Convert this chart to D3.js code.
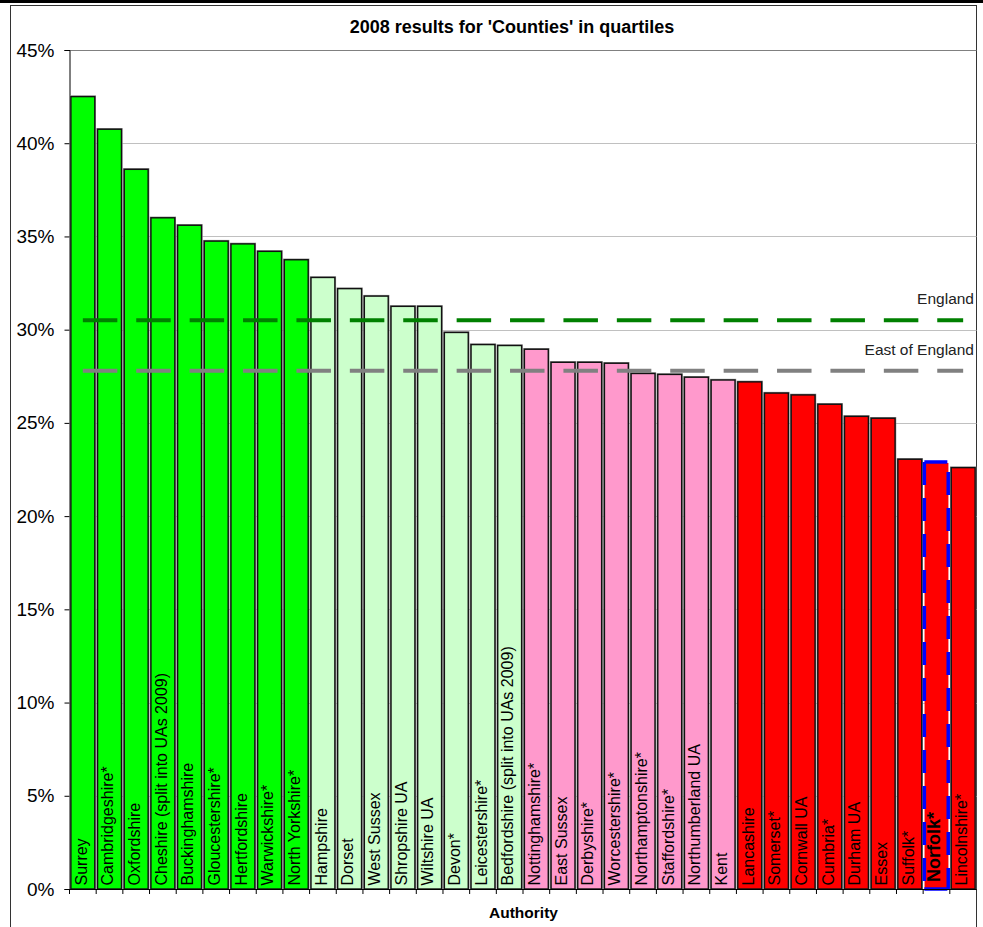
<!DOCTYPE html>
<html>
<head>
<meta charset="utf-8">
<script src="https://cdn.jsdelivr.net/npm/d3@7"></script>
<style>
  html, body { margin: 0; padding: 0; background: #fff; }
  svg { display: block; font-family: "Liberation Sans", Arial, sans-serif; }
</style>
</head>
<body>
<svg id="chart" width="983" height="927"></svg>
<script>
// Authorities, ordered by 2008 result
const authorities = [
  "Surrey", "Cambridgeshire*", "Oxfordshire", "Cheshire (split into UAs 2009)", "Buckinghamshire",
  "Gloucestershire*", "Hertfordshire", "Warwickshire*", "North Yorkshire*",
  "Hampshire", "Dorset", "West Sussex", "Shropshire UA", "Wiltshire UA", "Devon*",
  "Leicestershire*", "Bedfordshire (split into UAs 2009)",
  "Nottinghamshire*", "East Sussex", "Derbyshire*", "Worcestershire*", "Northamptonshire*",
  "Staffordshire*", "Northumberland UA", "Kent",
  "Lancashire", "Somerset*", "Cornwall UA", "Cumbria*", "Durham UA", "Essex", "Suffolk*",
  "Norfolk*", "Lincolnshire*"
];
// Result (%) for each authority
const results = [
  42.5, 40.75, 38.6, 36.0, 35.6,
  34.75, 34.6, 34.2, 33.75,
  32.8, 32.2, 31.8, 31.25, 31.25, 29.85,
  29.2, 29.15,
  28.95, 28.25, 28.25, 28.2, 27.65,
  27.6, 27.45, 27.3,
  27.2, 26.6, 26.5, 26.0, 25.35, 25.25, 23.05,
  22.85, 22.6
];
// Quartile (1 = top) for each authority
const quartiles = [
  1, 1, 1, 1, 1, 1, 1, 1, 1,
  2, 2, 2, 2, 2, 2, 2, 2,
  3, 3, 3, 3, 3, 3, 3, 3,
  4, 4, 4, 4, 4, 4, 4, 4, 4
];
const quartileColours = ["#00ff00", "#ccffcc", "#ff99cc", "#ff0000"];
const highlighted = "Norfolk*";

// Benchmark averages
const benchmarks = [
  { name: "England", value: 30.5, colour: "#008000", labelY: 303.5 },
  { name: "East of England", value: 27.8, colour: "#808080", labelY: 354.5 }
];
const yTicks = [0, 5, 10, 15, 20, 25, 30, 35, 40, 45];

const svg = d3.select("#chart");
const plotLeft = 69.5, plotRight = 976.5, plotTop = 50, plotBottom = 889;

const x = d3.scaleBand().domain(authorities).range([plotLeft, plotRight]).padding(0);
const y = d3.scaleLinear().domain([0, 45]).range([plotBottom, plotTop]);
const bw = x.bandwidth();

// Outer frame
svg.append("rect").attr("x", 0).attr("y", 0).attr("width", 983).attr("height", 3).attr("fill", "#000");
svg.append("rect").attr("x", 10.5).attr("y", 5.5).attr("width", plotRight - 10.5).attr("height", 940)
  .attr("fill", "none").attr("stroke", "#333").attr("stroke-width", 1);

// Title
svg.append("text").attr("x", 512).attr("y", 33).attr("text-anchor", "middle")
  .attr("font-size", 18).attr("font-weight", "bold").text("2008 results for 'Counties' in quartiles");

// Gridlines
svg.append("g").selectAll("line").data(yTicks.filter(t => t > 0)).join("line")
  .attr("x1", plotLeft).attr("x2", plotRight)
  .attr("y1", d => Math.round(y(d)) + 0.5).attr("y2", d => Math.round(y(d)) + 0.5)
  .attr("stroke", d => d === 45 ? "#808080" : "#c0c0c0").attr("stroke-width", 1);

// Y axis
const yAxis = d3.axisLeft(y).tickValues(yTicks).tickFormat(d => d + "%").tickSize(5).tickPadding(10);
const gy = svg.append("g").attr("transform", `translate(${plotLeft},0)`).call(yAxis);
gy.select(".domain").attr("stroke", "#000");
gy.selectAll(".tick line").attr("stroke", "#000");
gy.selectAll(".tick text").attr("font-size", 19).attr("fill", "#000")
  .attr("font-family", "'Liberation Sans', Arial, sans-serif");

// Bars: grey shadow then filled bar
const data = authorities.map((a, i) => ({ name: a, value: results[i], q: quartiles[i] }));
const bars = svg.append("g");
bars.selectAll("rect.shadow").data(data.filter(d => d.name !== highlighted)).join("rect")
  .attr("class", "shadow")
  .attr("x", d => x(d.name) + 0.2).attr("width", bw - 0.4)
  .attr("y", d => y(d.value) - 1.2).attr("height", d => y(0) - y(d.value) + 1.2)
  .attr("fill", "#8c8c8c");
bars.selectAll("rect.bar").data(data).join("rect")
  .attr("class", "bar")
  .attr("x", d => x(d.name) + 1.4).attr("width", bw - 2.8)
  .attr("y", d => y(d.value)).attr("height", d => y(0) - y(d.value))
  .attr("fill", d => quartileColours[d.q - 1])
  .attr("stroke", d => d.name === highlighted ? "none" : "#111")
  .attr("stroke-width", 1.4);

// Highlighted authority: blue dashed outline
const hx0 = x(highlighted) + 1.2, hx1 = x(highlighted) + bw - 1.6;
const hy0 = y(results[authorities.indexOf(highlighted)]) - 1, hy1 = y(0);
const sides = [
  { x1: hx0, y1: hy0, x2: hx1, y2: hy0, off: 0 },
  { x1: hx1, y1: hy0, x2: hx1, y2: hy1, off: -10 },
  { x1: hx0, y1: hy0, x2: hx0, y2: hy1, off: 0 },
  { x1: hx0, y1: hy1, x2: hx1, y2: hy1, off: 0 }
];
svg.append("g").selectAll("line").data(sides).join("line")
  .attr("x1", d => d.x1).attr("y1", d => d.y1).attr("x2", d => d.x2).attr("y2", d => d.y2)
  .attr("stroke", "#0000ff").attr("stroke-width", 3.5)
  .attr("stroke-dasharray", "23,13").attr("stroke-dashoffset", d => d.off);

// X axis line and ticks at category boundaries
svg.append("line").attr("x1", plotLeft).attr("x2", plotRight).attr("y1", plotBottom + 0.5).attr("y2", plotBottom + 0.5)
  .attr("stroke", "#000");
svg.append("g").selectAll("line").data(authorities).join("line")
  .attr("x1", d => x(d)).attr("x2", d => x(d))
  .attr("y1", plotBottom).attr("y2", plotBottom + 5).attr("stroke", "#000");

// Category labels inside the bars
svg.append("g").selectAll("text").data(data).join("text")
  .attr("transform", d => d.name === highlighted
    ? `translate(${x(d.name) + bw / 2 + 4},${plotBottom - 7}) rotate(-90)`
    : `translate(${x(d.name) + bw / 2 + 3.8},${plotBottom - 3.5}) rotate(-90)`)
  .attr("font-size", d => d.name === highlighted ? 18 : 16)
  .attr("font-weight", d => d.name === highlighted ? "bold" : "normal")
  .attr("fill", "#000")
  .text(d => d.name);

// Benchmark lines across the categories
const cx0 = x(authorities[0]) + bw / 2, cx1 = x(authorities[authorities.length - 1]) + bw / 2;
svg.append("g").selectAll("line").data(benchmarks).join("line")
  .attr("x1", cx0).attr("x2", cx1)
  .attr("y1", d => y(d.value)).attr("y2", d => y(d.value))
  .attr("stroke", d => d.colour).attr("stroke-width", 4)
  .attr("stroke-dasharray", "34.5,18.9");
svg.append("g").selectAll("text").data(benchmarks).join("text")
  .attr("x", 974).attr("y", d => d.labelY).attr("text-anchor", "end")
  .attr("font-size", 15.5).attr("fill", "#222").text(d => d.name);

// Axis title
svg.append("text").attr("x", 523.5).attr("y", 918).attr("text-anchor", "middle")
  .attr("font-size", 15.5).attr("font-weight", "bold").text("Authority");
</script>
</body>
</html>
